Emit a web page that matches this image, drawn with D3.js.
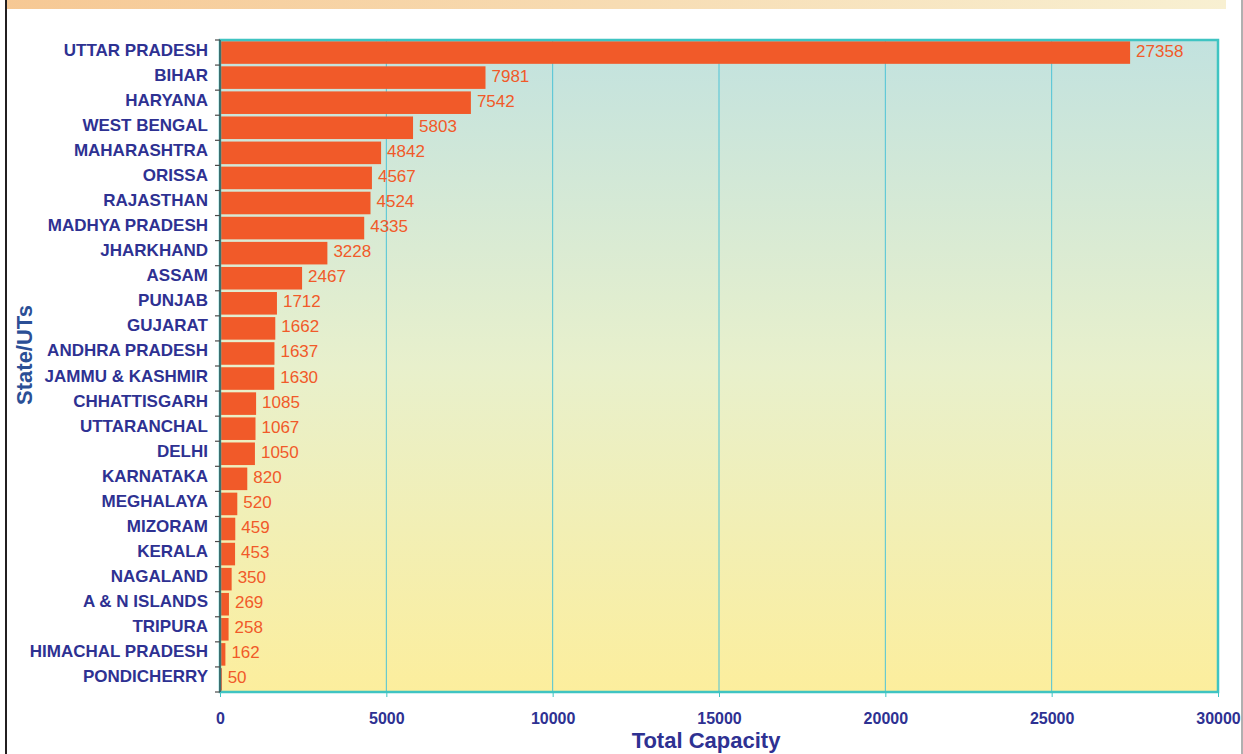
<!doctype html>
<html>
  <head>
    <meta charset="utf-8">
    <title>Total Capacity by State/UTs</title>
    <script src="https://d3js.org/d3.v7.min.js"></script>
    <style>
      body { margin: 0; background: #fff; }
      svg { display: block; font-family: 'Liberation Sans', Arial, sans-serif; }
    </style>
  </head>
  <body>
    <svg id="chart" width="1243" height="754"></svg>

    <script>
      var states = [
        'UTTAR PRADESH', 'BIHAR', 'HARYANA', 'WEST BENGAL', 'MAHARASHTRA',
        'ORISSA', 'RAJASTHAN', 'MADHYA PRADESH', 'JHARKHAND', 'ASSAM',
        'PUNJAB', 'GUJARAT', 'ANDHRA PRADESH', 'JAMMU & KASHMIR', 'CHHATTISGARH',
        'UTTARANCHAL', 'DELHI', 'KARNATAKA', 'MEGHALAYA', 'MIZORAM',
        'KERALA', 'NAGALAND', 'A & N ISLANDS', 'TRIPURA', 'HIMACHAL PRADESH',
        'PONDICHERRY'
      ]
      var capacity = [
        27358, 7981, 7542, 5803, 4842,
        4567, 4524, 4335, 3228, 2467,
        1712, 1662, 1637, 1630, 1085,
        1067, 1050, 820, 520, 459,
        453, 350, 269, 258, 162,
        50
      ]
      var xTicks = [0, 5000, 10000, 15000, 20000, 25000, 30000]

      var data = states.map((s, i) => ({ state: s, value: capacity[i] }))

      // plot box (note: "top" is reserved on window, so use other names)
      var plotLeft = 220, plotRight = 1218, plotTop = 40, plotBottom = 692
      var navy = '#2e3192'
      var orange = '#f15a29'
      var teal = '#3fc4c2'

      var svg = d3.select('#chart')
      var defs = svg.append('defs')

      // page decoration
      var band = defs.append('linearGradient').attr('id', 'banner')
      band.append('stop').attr('offset', '0%').attr('stop-color', '#f6c894')
      band.append('stop').attr('offset', '100%').attr('stop-color', '#f8f0d2')
      svg.append('rect').attr('x', 6).attr('y', 0).attr('width', 1220).attr('height', 9)
        .attr('fill', 'url(#banner)')
      svg.append('rect').attr('x', 5).attr('y', 0).attr('width', 2).attr('height', 754)
        .attr('fill', '#231f20')
      svg.append('rect').attr('x', 1241).attr('y', 0).attr('width', 2).attr('height', 754)
        .attr('fill', '#b0b0b0')

      // plot background
      var bg = defs.append('linearGradient').attr('id', 'plotbg')
        .attr('x1', 0).attr('y1', 0).attr('x2', 0).attr('y2', 1)
      bg.append('stop').attr('offset', '0%').attr('stop-color', '#c2e2df')
      bg.append('stop').attr('offset', '50%').attr('stop-color', '#e8f0cc')
      bg.append('stop').attr('offset', '100%').attr('stop-color', '#fcee9d')

      svg.append('rect')
        .attr('x', plotLeft).attr('y', plotTop)
        .attr('width', plotRight - plotLeft).attr('height', plotBottom - plotTop)
        .attr('fill', 'url(#plotbg)')

      var x = d3.scaleLinear().domain([0, 30000]).range([plotLeft, plotRight])
      var y = d3.scaleBand().domain(states).range([plotTop, plotBottom])
        .paddingInner(0.1).paddingOuter(0.05)
      var rowEdge = d3.scaleLinear().domain([0, states.length]).range([plotTop, plotBottom])

      // grid
      svg.append('g')
        .selectAll('line')
        .data(xTicks.slice(1, -1))
        .join('line')
        .attr('x1', (d) => x(d)).attr('x2', (d) => x(d))
        .attr('y1', plotTop).attr('y2', plotBottom)
        .attr('stroke', '#4ec3d6')
        .attr('stroke-width', 1)

      // bars
      svg.append('g')
        .selectAll('rect')
        .data(data)
        .join('rect')
        .attr('x', x(0) + 1)
        .attr('y', (d) => y(d.state))
        .attr('width', (d) => Math.max(x(d.value) - x(0) - 1, 1))
        .attr('height', y.bandwidth())
        .attr('fill', orange)

      // value labels
      svg.append('g')
        .selectAll('text')
        .data(data)
        .join('text')
        .attr('x', (d) => x(d.value) + 6)
        .attr('y', (d) => y(d.state) + y.bandwidth() / 2 + 4)
        .attr('fill', orange)
        .attr('font-size', 17)
        .text((d) => d.value)

      // frame
      svg.append('rect')
        .attr('x', plotLeft).attr('y', plotTop)
        .attr('width', plotRight - plotLeft).attr('height', plotBottom - plotTop)
        .attr('fill', 'none')
        .attr('stroke', teal)
        .attr('stroke-width', 2.5)

      // left axis line and ticks
      svg.append('line')
        .attr('x1', plotLeft).attr('x2', plotLeft).attr('y1', plotTop).attr('y2', plotBottom)
        .attr('stroke', '#3a3a3a').attr('stroke-width', 1.2)
      svg.append('g')
        .selectAll('line')
        .data(d3.range(states.length + 1))
        .join('line')
        .attr('x1', plotLeft - 5).attr('x2', plotLeft)
        .attr('y1', (d) => rowEdge(d)).attr('y2', (d) => rowEdge(d))
        .attr('stroke', '#4a4a4a').attr('stroke-width', 1.2)

      // state labels
      svg.append('g')
        .selectAll('text')
        .data(states)
        .join('text')
        .attr('x', 208)
        .attr('y', (d) => y(d) + y.bandwidth() / 2 + 3)
        .attr('text-anchor', 'end')
        .attr('font-size', 17)
        .attr('font-weight', 'bold')
        .attr('fill', navy)
        .text((d) => d)

      // bottom axis
      var xAxis = svg.append('g')
        .attr('transform', `translate(0,${plotBottom})`)
        .call(d3.axisBottom(x).tickValues(xTicks).tickSize(5).tickSizeOuter(0).tickFormat(d3.format('d')))
      xAxis.select('.domain').remove()
      xAxis.selectAll('.tick line').attr('stroke', teal)
      xAxis.selectAll('.tick text')
        .attr('y', 26)
        .attr('dy', '0.35em')
        .attr('font-family', "'Liberation Sans', Arial, sans-serif")
        .attr('font-size', 16)
        .attr('font-weight', 'bold')
        .attr('fill', navy)

      // axis titles
      svg.append('text')
        .attr('x', (plotLeft + plotRight) / 2 - 13)
        .attr('y', 748)
        .attr('text-anchor', 'middle')
        .attr('font-size', 22)
        .attr('font-weight', 'bold')
        .attr('fill', navy)
        .text('Total Capacity')

      svg.append('text')
        .attr('transform', 'translate(32,355) rotate(-90)')
        .attr('text-anchor', 'middle')
        .attr('font-size', 22)
        .attr('font-weight', 'bold')
        .attr('fill', '#2b4f96')
        .text('State/UTs')
    </script>
  </body>
</html>
